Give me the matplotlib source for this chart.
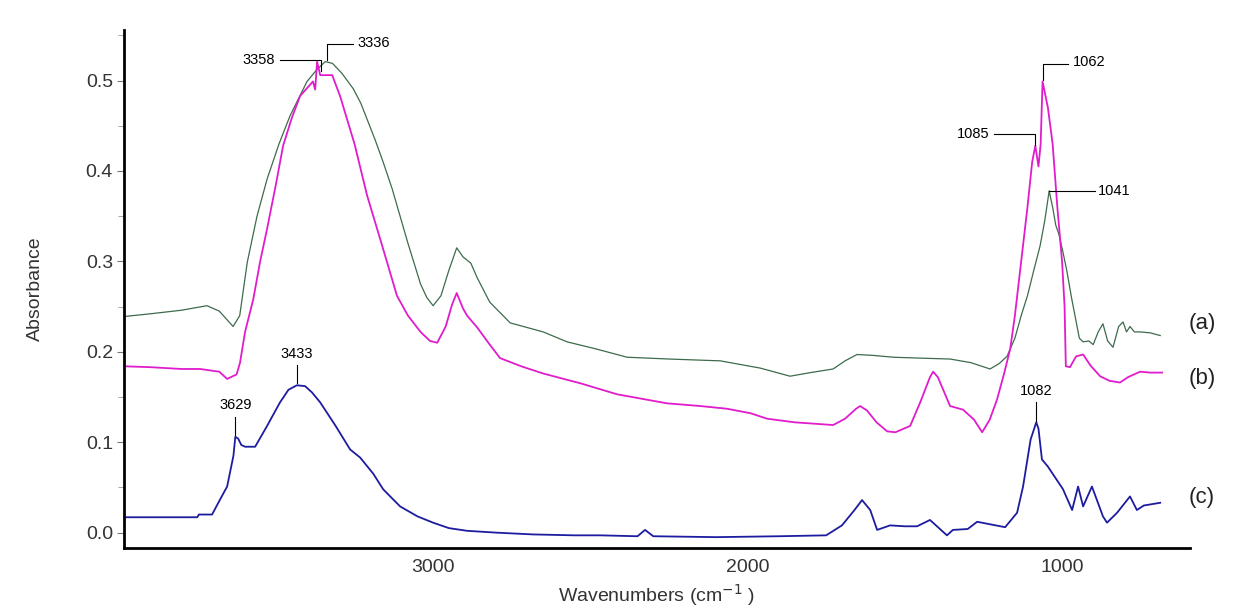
import matplotlib
matplotlib.use("Agg")
import matplotlib.pyplot as plt
from matplotlib.ticker import MultipleLocator

plt.rcParams['font.family'] = ['Liberation Sans', 'DejaVu Sans']

# spectrum (a)
wn_a = [3983, 3900, 3800, 3719, 3680, 3636, 3615, 3591, 3560, 3528, 3490, 3455, 3401, 3370,
        3343, 3320, 3290, 3254, 3230, 3185, 3159, 3130, 3105, 3080, 3040, 3020, 3000, 2975,
        2950, 2925, 2905, 2880, 2860, 2820, 2755, 2650, 2574, 2480, 2383, 2250, 2087, 1960,
        1865, 1800, 1728, 1690, 1652, 1600, 1537, 1450, 1356, 1290, 1229, 1200, 1175, 1150,
        1130, 1110, 1090, 1070, 1055, 1041, 1030, 1020, 1010, 997, 985, 970, 955, 945, 933,
        915, 901, 885, 870, 855, 838, 820, 806, 795, 784, 770, 752, 720, 688]
abs_a = [0.239, 0.242, 0.246, 0.251, 0.245, 0.228, 0.240, 0.299, 0.350, 0.391, 0.430, 0.461,
         0.499, 0.512, 0.521, 0.519, 0.508, 0.491, 0.475, 0.435, 0.410, 0.380, 0.350, 0.320,
         0.275, 0.260, 0.251, 0.262, 0.290, 0.315, 0.305, 0.298, 0.282, 0.255, 0.232, 0.222,
         0.211, 0.203, 0.194, 0.192, 0.190, 0.182, 0.173, 0.177, 0.181, 0.190, 0.197, 0.196,
         0.194, 0.193, 0.192, 0.188, 0.181, 0.187, 0.195, 0.215, 0.240, 0.262, 0.290, 0.317,
         0.345, 0.378, 0.360, 0.340, 0.330, 0.310, 0.290, 0.260, 0.233, 0.215, 0.211, 0.212,
         0.208, 0.222, 0.231, 0.212, 0.205, 0.228, 0.233, 0.222, 0.228, 0.222, 0.222, 0.221,
         0.218]

# spectrum (b)
wn_b = [3983, 3900, 3800, 3741, 3680, 3655, 3625, 3614, 3598, 3572, 3550, 3528, 3500, 3477,
        3450, 3423, 3400, 3382, 3375, 3369, 3359, 3340, 3321, 3296, 3250, 3210, 3160, 3115,
        3080, 3040, 3010, 2987, 2960, 2940, 2925, 2905, 2892, 2860, 2820, 2787, 2720, 2650,
        2530, 2415, 2256, 2150, 2065, 1990, 1938, 1850, 1728, 1690, 1655, 1642, 1620, 1590,
        1556, 1530, 1483, 1450, 1420, 1410, 1395, 1356, 1315, 1280, 1254, 1230, 1207, 1185,
        1165, 1150, 1130, 1110, 1095, 1085, 1075, 1068, 1062, 1045, 1030, 1015, 1000, 992,
        988, 975, 955, 933, 910, 879, 850, 816, 790, 752, 720, 682]
abs_b = [0.184, 0.183, 0.181, 0.181, 0.178, 0.170, 0.175, 0.188, 0.222, 0.258, 0.300, 0.336,
         0.385, 0.428, 0.458, 0.483, 0.492, 0.499, 0.490, 0.521, 0.506, 0.506, 0.506, 0.483,
         0.430, 0.373, 0.315, 0.262, 0.240, 0.222, 0.212, 0.210, 0.228, 0.252, 0.265, 0.248,
         0.240, 0.227, 0.208, 0.193, 0.184, 0.176, 0.165, 0.153, 0.143, 0.140, 0.137, 0.132,
         0.126, 0.122, 0.119, 0.126, 0.137, 0.140, 0.135, 0.122, 0.112, 0.111, 0.118, 0.145,
         0.172, 0.178, 0.172, 0.140, 0.136, 0.125, 0.111, 0.125, 0.147, 0.175, 0.203, 0.240,
         0.300, 0.360, 0.410, 0.428, 0.405, 0.430, 0.499, 0.470, 0.430, 0.360, 0.300, 0.250,
         0.184, 0.183, 0.195, 0.197, 0.185, 0.173, 0.168, 0.166, 0.172, 0.178, 0.177, 0.177]

# spectrum (c)
wn_c = [3983, 3850, 3750, 3745, 3703, 3680, 3655, 3635, 3629, 3620, 3610, 3598, 3566, 3528,
        3487, 3460, 3433, 3407, 3385, 3359, 3310, 3264, 3232, 3190, 3159, 3105, 3050, 3000,
        2950, 2892, 2800, 2682, 2550, 2470, 2350, 2326, 2300, 2100, 1900, 1750, 1700, 1660,
        1636, 1610, 1588, 1547, 1500, 1461, 1420, 1366, 1347, 1300, 1270, 1181, 1143, 1124,
        1100, 1082, 1075, 1064, 1045, 1020, 997, 968, 949, 933, 905, 870, 857, 825, 784, 762,
        740, 688]
abs_c = [0.017, 0.017, 0.017, 0.020, 0.020, 0.035, 0.051, 0.085, 0.106, 0.104, 0.097, 0.095,
         0.095, 0.118, 0.144, 0.158, 0.163, 0.162, 0.155, 0.144, 0.118, 0.092, 0.083, 0.065,
         0.048, 0.029, 0.018, 0.011, 0.005, 0.002, 0.000, -0.002, -0.003, -0.003, -0.004,
         0.003, -0.004, -0.005, -0.004, -0.003, 0.008, 0.025, 0.036, 0.025, 0.003, 0.008,
         0.007, 0.007, 0.014, -0.003, 0.003, 0.004, 0.012, 0.006, 0.022, 0.051, 0.103, 0.122,
         0.115, 0.081, 0.073, 0.060, 0.048, 0.025, 0.051, 0.029, 0.051, 0.018, 0.011, 0.022,
         0.040, 0.025, 0.030, 0.033]

# peak labels: text, wavenumber, absorbance
peaks_up = [("3336", 3336, 0.521), ("1062", 1062, 0.499)]
peaks_left = [("3358", 3358, 0.510), ("1085", 1085, 0.428)]
peaks_right = [("1041", 1041, 0.378)]
peaks_top = [("3433", 3433, 0.163), ("3629", 3629, 0.106), ("1082", 1082, 0.122)]

trace_names = ["(a)", "(b)", "(c)"]
trace_levels = [0.231, 0.170, 0.039]

fig = plt.figure(figsize=(12.35, 6.16), dpi=100)
ax = fig.add_axes([0.1004, 0.1104, 0.8632, 0.841])

ax.plot(wn_a, abs_a, color='#3d6b4c', lw=0.9)
ax.plot(wn_b, abs_b, color='#e01ccc', lw=1.3)
ax.plot(wn_c, abs_c, color='#1c1ca0', lw=1.3)

ax.set_xlim(3983, 593)
ax.set_ylim(-0.017, 0.556)

pk_font = dict(family=['Liberation Sans Narrow', 'Liberation Sans'], fontsize=10.5, color='black')

for lab, w, a in peaks_up:
    ax.plot([w, w, w - 80], [a + 0.002, a + 0.019, a + 0.019], color='black', lw=0.8)
    ax.text(w - 95, a + 0.021, lab, ha='left', va='center', **pk_font)
for lab, w, a in peaks_left:
    ax.plot([w, w, w + 130], [a + 0.001, a + 0.013, a + 0.013], color='black', lw=0.8)
    ax.text(w + 145, a + 0.013, lab, ha='right', va='center', **pk_font)
for lab, w, a in peaks_right:
    ax.plot([w, w - 145], [a, a], color='black', lw=0.8)
    ax.text(w - 155, a, lab, ha='left', va='center', **pk_font)
for lab, w, a in peaks_top:
    ax.plot([w, w], [a + 0.002, a + 0.022], color='black', lw=0.8)
    ax.text(w, a + 0.027, lab, ha='center', va='bottom', **pk_font)

for name, lvl in zip(trace_names, trace_levels):
    ax.text(555, lvl, name, ha='center', va='center', fontsize=16, color='#222222', clip_on=False)

for s in ['top', 'right']:
    ax.spines[s].set_visible(False)
for s in ['left', 'bottom']:
    ax.spines[s].set_linewidth(2.0)

ax.set_xticks([3000, 2000, 1000])
ax.yaxis.set_major_locator(MultipleLocator(0.1))
ax.yaxis.set_minor_locator(MultipleLocator(0.05))
ax.tick_params(axis='x', length=0, labelsize=14, labelcolor='#333333', pad=8)
ax.tick_params(axis='y', which='major', length=5, color='#777777', labelsize=14,
               labelcolor='#333333', pad=3)
ax.tick_params(axis='y', which='minor', length=4, color='#999999')
ax.yaxis.set_major_formatter(matplotlib.ticker.FormatStrFormatter('%.1f'))

ax.set_xlabel('Wavenumbers (cm$^{-1}$ )', fontsize=14, color='#333333', labelpad=4)
ax.set_ylabel('Absorbance', fontsize=14, color='#333333', labelpad=30)

fig.savefig('out.png', dpi=100, facecolor='white')
